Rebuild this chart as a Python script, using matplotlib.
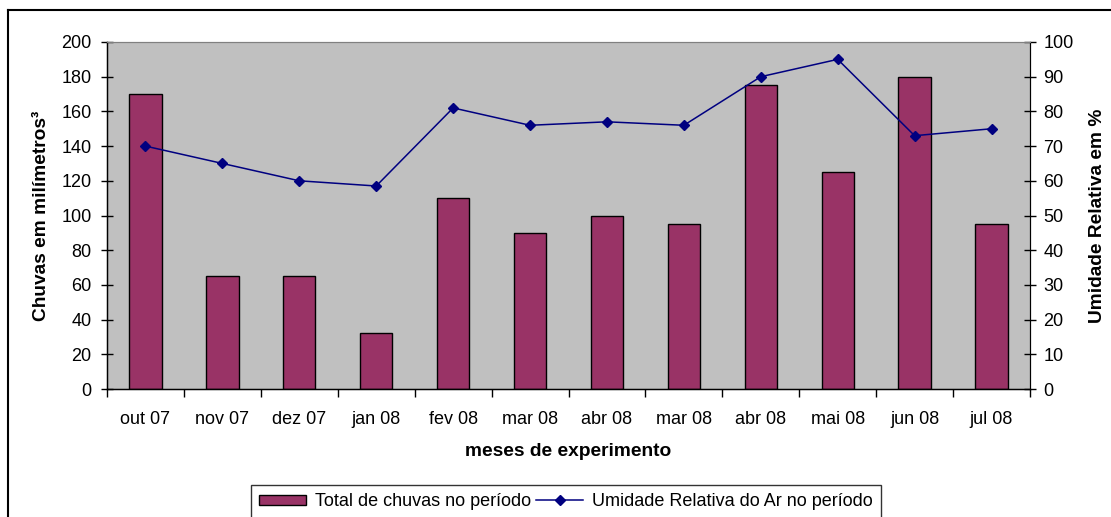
import matplotlib
matplotlib.use("Agg")
import matplotlib.pyplot as plt
import numpy as np
from matplotlib.lines import Line2D

plt.rcParams['font.family'] = ['Liberation Sans', 'DejaVu Sans']

months = ["out 07", "nov 07", "dez 07", "jan 08", "fev 08", "mar 08",
          "abr 08", "mar 08", "abr 08", "mai 08", "jun 08", "jul 08"]
rain = [170, 65, 65, 32, 110, 90, 100, 95, 175, 125, 180, 95]
humidity = [70, 65, 60, 58.5, 81, 76, 77, 76, 90, 95, 73, 75]

W, H = 1111, 517
FS = 13
LFS = 13.8
fig = plt.figure(figsize=(W / 100, H / 100), dpi=100)
fig.patch.set_facecolor('white')

# outer frame (left and top visible)
fig.add_artist(Line2D([8 / W, 8 / W], [0, 1 - 10 / H], transform=fig.transFigure, color='black', lw=1.5))
fig.add_artist(Line2D([8 / W, 1], [1 - 10 / H, 1 - 10 / H], transform=fig.transFigure, color='black', lw=1.5))

L, R, T, B = 107, 1030, 42, 389
ax = fig.add_axes([L / W, 1 - B / H, (R - L) / W, (B - T) / H])
ax.set_facecolor('#c0c0c0')

x = np.arange(len(months))
bars = ax.bar(x, rain, width=0.42, color='#993366', edgecolor='black', linewidth=1, zorder=2,
              label='Total de chuvas no período')
ax.set_xlim(-0.5, len(months) - 0.5)
ax.set_ylim(0, 200)
ax.set_yticks(np.arange(0, 201, 20))
ax.set_xticks(x)
ax.set_xticklabels(months)
ax.set_xticks(np.arange(-0.5, len(months), 1), minor=True)
ax.tick_params(axis='x', which='major', length=0, pad=16, labelsize=FS)
ax.tick_params(axis='x', which='minor', length=5.5, direction='out', width=1)
ax.tick_params(axis='y', which='major', length=9, direction='inout', width=1, labelsize=FS, pad=6.5)
for s in ['left', 'bottom']:
    ax.spines[s].set_color('black')
    ax.spines[s].set_linewidth(1)
ax.spines['top'].set_color('#808080')
ax.spines['right'].set_color('black')
ax.set_ylabel('Chuvas em milímetros³', fontsize=LFS, fontweight='bold')
ax.yaxis.set_label_coords((42 - L) / (R - L), 0.5)
ax.yaxis.label.set_va('center')
ax.set_xlabel('meses de experimento', fontsize=LFS, fontweight='bold')
ax.xaxis.set_label_coords(0.5, (B - 452) / (B - T))
ax.xaxis.label.set_va('center')

ax2 = ax.twinx()
line, = ax2.plot(x, humidity, color='#000080', marker='D', markersize=5.5, linewidth=1.1,
                 label='Umidade Relativa do Ar no período', zorder=3)
ax2.set_ylim(0, 100)
ax2.set_yticks(np.arange(0, 101, 10))
ax2.tick_params(axis='y', which='major', length=9, direction='inout', width=1, labelsize=FS, pad=5)
ax2.spines['right'].set_color('black')
ax2.spines['top'].set_color('#808080')
ax2.set_ylabel('Umidade Relativa em %', fontsize=LFS, fontweight='bold')
ax2.yaxis.set_label_coords((1098 - L) / (R - L), 0.5)
ax2.yaxis.label.set_va('center')

leg = fig.legend([bars, line], ['Total de chuvas no período', 'Umidade Relativa do Ar no período'],
                 loc='upper center', bbox_to_anchor=(566 / W, 1 - 485 / H), ncol=2,
                 frameon=True, fancybox=False, shadow=False, fontsize=FS,
                 edgecolor='black', handlelength=2.6, handleheight=0.5, handletextpad=0.5,
                 columnspacing=0.3, borderpad=0.45, borderaxespad=0)
leg.get_frame().set_linewidth(1)

fig.savefig('out.png', dpi=100)
